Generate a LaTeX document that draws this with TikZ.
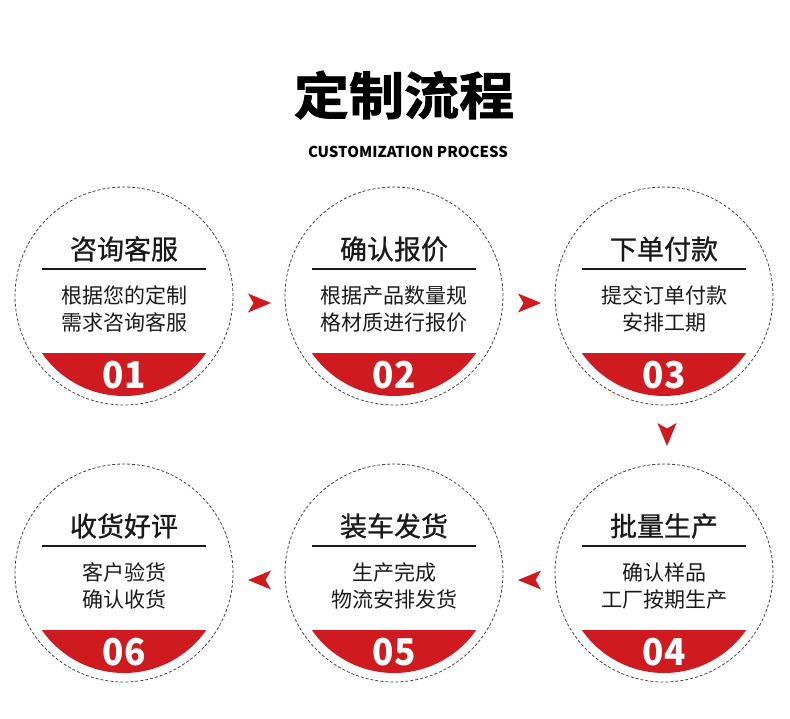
\documentclass[tikz,border=0pt]{standalone}
\usepackage{fontspec}
\setmainfont{Noto Sans CJK SC}
\newfontfamily\cjkmed[FakeBold=0.9]{Noto Sans CJK SC}
\newfontfamily\cjkheavy[FakeBold=1.6]{Noto Sans CJK SC Bold}
\usetikzlibrary{calc}
\definecolor{brandred}{HTML}{CF1B20}
\definecolor{ringgray}{HTML}{444444}
\definecolor{textdark}{HTML}{1A1A1A}
\tikzset{
  ring/.style={circle, draw=ringgray, line width=0.8pt, dash pattern=on 3pt off 2pt, minimum size=218pt, inner sep=0pt},
  steptitle/.style={font=\cjkmed\fontsize{27}{32}\selectfont, text=textdark, inner sep=0pt},
  stepbody/.style={font=\fontsize{21}{27}\selectfont, text=textdark, align=center, inner sep=0pt},
  stepnum/.style={font=\bfseries\fontsize{37}{40}\selectfont, text=white, inner sep=0pt, xscale=0.95},
  rule/.style={line width=1.2pt, draw=textdark},
  arrowhead/.pic={\fill[brandred] (0,0) -- (-23,-9.5) -- (-17.5,0) -- (-23,9.5) -- cycle;}
}
\newcommand\stepcircle[7]{%
  \node[ring] (#1) at (#2,#3) {};
  \begin{scope}
    \clip ($(#1)+(-110,57)$) rectangle ($(#1)+(110,112)$);
    \fill[brandred] (#1) circle (100);
  \end{scope}
  \node[steptitle] (#1t) at ($(#1)+(0,-47)$) {#4};
  \coordinate (#1l) at ($(#1)+(-82,-27)$);
  \coordinate (#1r) at ($(#1)+(82,-27)$);
  \draw[rule] (#1l) -- (#1r);
  \node[stepbody] (#1b) at ($(#1)+(0,13)$) {#5\\#6};
  \node[stepnum] (#1n) at ($(#1)+(0,79)$) {#7};
}
\begin{document}
\begin{tikzpicture}[x=1pt,y=-1pt]
\useasboundingbox (0,0) rectangle (790,718);
\node[font=\cjkheavy\fontsize{51}{56}\selectfont, inner sep=0pt, xscale=1.08] (title) at (404,95) {定制流程};
\node[font=\bfseries\fontsize{15}{18}\selectfont, inner sep=0pt] (subtitle) at (408,151.5) {CUSTOMIZATION PROCESS};
\stepcircle{c1}{124}{296}{咨询客服}{根据您的定制}{需求咨询客服}{01}
\stepcircle{c2}{394}{296}{确认报价}{根据产品数量规}{格材质进行报价}{02}
\stepcircle{c3}{664}{296}{下单付款}{提交订单付款}{安排工期}{03}
\stepcircle{c4}{664}{573}{批量生产}{确认样品}{工厂按期生产}{04}
\stepcircle{c5}{394}{573}{装车发货}{生产完成}{物流安排发货}{05}
\stepcircle{c6}{124}{573}{收货好评}{客户验货}{确认收货}{06}
\path ($(c1)!0.5!(c2)+(12,7)$) pic {arrowhead};
\path ($(c2)!0.5!(c3)+(12,7)$) pic {arrowhead};
\path ($(c3)!0.5!(c4)+(3,11.5)$) pic[rotate=-90] {arrowhead};
\path ($(c4)!0.5!(c5)+(-11,7)$) pic[rotate=180] {arrowhead};
\path ($(c5)!0.5!(c6)+(-11,7)$) pic[rotate=180] {arrowhead};
\end{tikzpicture}
\end{document}
